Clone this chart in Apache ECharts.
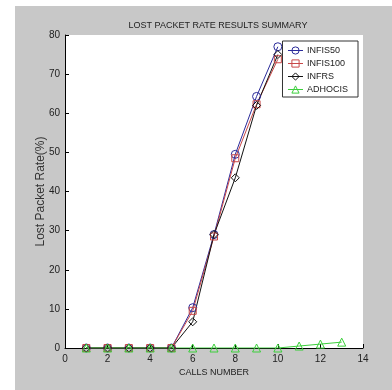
<!DOCTYPE html>
<html><head><meta charset="utf-8">
<script src="https://cdn.jsdelivr.net/npm/echarts@6/dist/echarts.min.js"></script>
<style>html,body{margin:0;padding:0;background:#fff}#c{width:392px;height:390px}</style>
</head><body><div id="c"></div>
<script>
const callsA = [1,2,3,4,5,6,7,8,9,10];
const callsB = [1,2,3,4,5,6,7,8,9,10,11,12,13];
const infis50 = [0,0,0,0,0,10.3,29,49.5,64.3,77];
const infis100 = [0,0,0,0,0,9.5,28.5,48.5,62.3,73.8];
const infrs = [0,0,0,0,0,6.7,29,43.5,62,75];
const adhocis = [0,0,0,0,0,0,0,0,0,0,0.5,1,1.5];
const seriesNames = ['INFIS50','INFIS100','INFRS','ADHOCIS'];
const FONT = '"Liberation Sans", Arial, sans-serif';

function mk(name, xs, ys, color, symbol, size){
  return {
    name, type:'line', data: xs.map((x,i)=>[x, ys[i]]),
    symbol, symbolSize:size, showAllSymbol:true,
    lineStyle:{color, width:1},
    itemStyle:{color:'rgba(255,255,255,0)', borderColor:color, borderWidth:1},
    emphasis:{disabled:true}, animation:false
  };
}
const chart = echarts.init(document.getElementById('c'), null, {renderer:'canvas'});
chart.setOption({
  animation:false,
  backgroundColor:'#ffffff',
  graphic:[{type:'rect', shape:{x:15,y:6,width:377,height:384}, style:{fill:'#c8c8c8'}, z:-10, silent:true}],
  title:{text:'LOST PACKET RATE RESULTS SUMMARY', left:213, textAlign:'center', top:16,
    textStyle:{fontFamily:FONT, fontSize:9, fontWeight:'normal', color:'#222'}},
  grid:{left:65, top:35, right:29, bottom:42, show:true, backgroundColor:'#fff', borderWidth:0},
  legend:{orient:'vertical', right:34, top:41, data:seriesNames,
    backgroundColor:'#fff', borderColor:'#333', borderWidth:1, borderRadius:0,
    padding:[5,10,3,5], itemGap:4, itemWidth:15, itemHeight:9,
    itemStyle:{borderWidth:1},
    lineStyle:{width:1},
    textStyle:{fontFamily:FONT, fontSize:9, color:'#222', padding:[0,0,0,-1]}},
  xAxis:{type:'value', min:0, max:14, interval:2,
    name:'CALLS NUMBER', nameLocation:'middle', nameGap:20, nameMoveOverlap:false,
    nameTextStyle:{fontFamily:FONT, fontSize:9, color:'#222'},
    axisLine:{lineStyle:{color:'#000', width:1}},
    axisTick:{inside:true, length:4, lineStyle:{color:'#000'}},
    axisLabel:{fontFamily:FONT, fontSize:10, color:'#222', margin:6},
    splitLine:{show:false}},
  yAxis:{type:'value', min:0, max:80, interval:10,
    name:'Lost Packet Rate(%)', nameLocation:'middle', nameGap:18, nameMoveOverlap:false,
    nameTextStyle:{fontFamily:FONT, fontSize:12, color:'#333'},
    axisLine:{show:true, lineStyle:{color:'#000', width:1}},
    axisTick:{show:true, inside:true, length:4, lineStyle:{color:'#000'}},
    axisLabel:{fontFamily:FONT, fontSize:10, color:'#222', margin:5},
    splitLine:{show:false}},
  series:[
    mk('INFIS50', callsA, infis50, '#2b2b9a', 'circle', 8),
    mk('INFIS100', callsA, infis100, '#c84848', 'rect', 7),
    mk('INFRS', callsA, infrs, '#111111', 'diamond', 8),
    mk('ADHOCIS', callsB, adhocis, '#3ccf3c', 'triangle', 8)
  ]
});
</script></body></html>
